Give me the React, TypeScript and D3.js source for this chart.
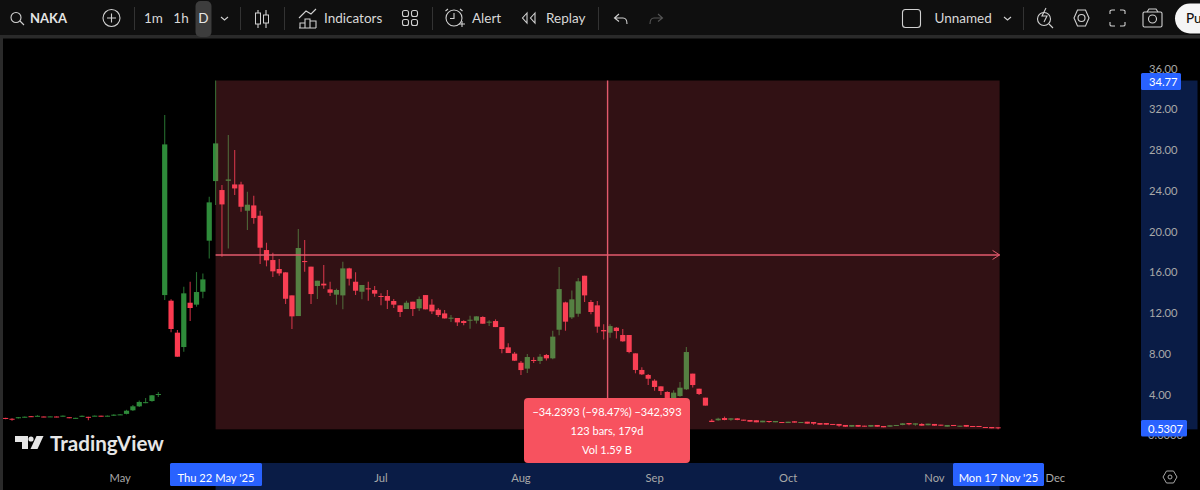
import React from "react";
import * as d3 from "d3";

const priceTicks = [36, 32, 28, 24, 20, 16, 12, 8, 4];
const monthLabels = ["May", "Jun", "Jul", "Aug", "Sep", "Oct", "Nov", "Dec"];
const monthIndex = [18, 39, 59, 81, 102, 123, 146, 165];

const opens = [1.65,1.57,1.62,1.73,1.82,1.82,1.79,1.76,1.79,1.82,1.72,1.62,1.78,1.76,1.85,1.87,1.82,1.95,1.97,2.05,2.40,2.79,3.15,3.31,3.95,
13.71,13.16,10.02,8.61,12.96,12.77,14.04,19.05,24.90,24.02,24.93,24.57,24.57,21.99,22.51,21.50,18.13,17.15,16.27,15.94,13.68,11.65,17.05,16.50,14.60,14.83,14.27,13.75,13.68,16.33,15.02,14.04,
14.37,14.20,13.62,13.62,13.13,12.70,12.34,13.06,12.41,13.71,12.77,12.27,11.91,11.39,11.46,11.16,11.23,11.20,11.56,11.03,11.16,10.57,8.58,7.96,7.07,6.49,7.34,7.24,7.83,7.50,10.31,12.99,11.52,11.88,15.61,13.03,12.70,
10.28,10.02,10.51,9.79,9.79,7.99,6.36,5.87,5.31,4.75,4.20,3.30,3.80,4.46,6.00,4.52,3.64,
1.38,1.42,1.64,1.48,1.61,1.48,1.45,1.42,1.22,1.35,1.22,1.25,1.15,1.32,1.15,1.28,1.25,1.15,1.15,1.06,1.06,0.96,0.79,0.96,0.89,0.79,0.96,0.86,0.79,0.86,0.96,1.15,0.99,1.06,0.93,1.06,0.99,0.79,0.96,0.79,0.96,0.86,0.86,0.76,0.76,0.73];
const closes = [1.58,1.54,1.72,1.77,1.77,1.86,1.75,1.80,1.74,1.87,1.66,1.66,1.86,1.73,1.87,1.84,1.87,1.97,2.00,2.36,2.79,3.22,3.20,3.87,4.00,
28.50,10.38,7.66,13.88,12.44,14.01,15.25,22.81,28.60,22.61,25.06,24.18,22.38,22.58,21.27,18.36,17.12,16.04,15.84,13.35,11.62,18.33,16.95,13.81,15.12,14.66,13.94,14.21,16.33,15.32,14.14,14.70,
14.27,13.85,13.55,13.16,12.77,12.05,12.96,12.34,13.32,12.31,12.11,11.75,11.42,11.49,11.03,10.97,11.29,11.62,10.90,11.10,10.57,8.42,8.02,7.27,6.35,7.63,7.24,7.66,7.50,9.63,14.30,11.10,13.29,15.06,13.68,12.05,10.61,
10.15,10.67,10.18,9.17,8.12,6.36,5.93,5.50,4.69,4.29,3.58,4.13,4.62,8.12,4.88,4.00,2.86,
1.25,1.58,1.45,1.61,1.45,1.38,1.28,1.22,1.38,1.25,1.35,1.19,1.28,1.19,1.25,1.09,1.09,0.99,0.99,0.99,0.89,0.79,0.96,0.79,0.79,0.96,0.79,0.73,0.93,0.96,1.12,1.02,1.12,0.89,1.09,0.89,0.89,0.96,0.86,0.89,0.79,0.76,0.76,0.70,0.63,0.63];
const highs = [1.68,1.62,1.74,1.80,1.84,1.92,1.80,1.80,1.80,1.90,1.72,1.68,1.90,1.76,1.89,1.87,1.89,2.02,2.02,2.45,2.92,3.35,3.60,3.90,4.20,
31.38,13.29,10.28,14.53,15.02,15.97,15.84,23.36,34.77,24.51,29.42,27.94,24.84,23.85,23.46,21.99,18.85,17.87,17.25,15.94,13.68,20.19,19.11,16.50,15.12,16.66,15.02,14.34,16.99,16.40,15.94,14.70,
15.02,14.60,13.88,14.20,13.32,12.70,13.16,13.06,13.58,13.71,13.29,12.44,12.24,11.75,11.46,11.23,11.69,11.62,11.62,11.23,11.33,10.57,8.97,8.12,7.24,7.92,7.60,7.92,7.92,10.21,16.46,13.06,14.17,15.38,15.61,13.22,13.13,
10.84,10.84,10.58,10.38,9.79,7.99,6.62,5.96,5.44,4.75,4.26,4.36,5.18,8.61,6.00,4.52,3.64,
1.55,1.68,1.78,1.61,1.64,1.48,1.45,1.42,1.38,1.35,1.35,1.25,1.28,1.32,1.25,1.28,1.25,1.15,1.15,1.06,1.06,0.96,0.96,0.96,0.89,0.96,0.96,0.86,0.93,0.96,1.15,1.15,1.12,1.12,1.09,1.06,0.99,0.96,0.96,0.89,0.96,0.86,0.86,0.76,0.76,0.73];
const lows = [1.52,1.38,1.60,1.70,1.74,1.80,1.73,1.74,1.72,1.80,1.62,1.60,1.76,1.42,1.82,1.80,1.80,1.85,1.95,2.00,2.32,2.72,3.10,3.25,3.70,
13.22,10.05,7.66,8.15,11.16,12.57,13.39,17.31,22.55,17.48,18.29,23.53,21.89,20.09,20.71,16.76,16.53,15.48,15.61,12.83,10.38,11.65,16.00,12.83,13.32,14.34,13.62,12.77,12.31,14.66,13.71,13.29,
13.16,13.55,12.70,12.34,12.44,11.56,12.34,11.65,12.14,12.31,11.85,11.56,11.42,11.06,10.67,10.74,10.41,10.93,10.90,10.67,10.57,7.99,8.02,7.24,5.86,6.06,7.04,6.94,7.30,7.40,9.76,10.21,11.36,11.59,13.03,11.82,10.02,
9.36,9.53,9.46,9.14,7.99,6.03,5.87,4.88,4.33,3.90,3.20,3.10,3.74,4.39,4.65,3.90,2.86,
1.25,1.38,1.42,1.38,1.42,1.38,1.28,1.22,1.22,1.19,1.22,1.19,1.15,1.19,1.15,1.09,0.99,0.99,0.99,0.99,0.79,0.79,0.79,0.79,0.79,0.79,0.79,0.73,0.79,0.86,0.93,0.93,0.89,0.89,0.93,0.89,0.89,0.79,0.86,0.79,0.79,0.76,0.76,0.70,0.63,0.53];

const bars = opens.map((open, i) => ({ i, open, close: closes[i], high: highs[i], low: lows[i] }));

const measureStart = 33;
const measureEnd = 156;
const measureHigh = 34.77;
const measureLow = 0.5307;

const FONT = "Lato, 'Noto Sans', sans-serif";
const x = d3.scaleLinear().domain([25, 93]).range([164.7, 597.3]);
const y = d3.scaleLinear().domain([0, 36]).range([434.75, 68]);
const GREEN = "#2e8b3a", GREEN_W = "#256b2e", RED = "#fb3a50", RED_W = "#c42c40";
const ICON = "#d1d1d1";
const AXIS_SIZE = 11.2;

function Tx(p: any) {
  return <text fontFamily={FONT} dominantBaseline="central" {...p} />;
}

function Toolbar() {
  const s = { fill: "none", stroke: ICON, strokeWidth: 1.1 };
  return (
    <g>
      <rect x={0} y={0} width={1200} height={35} fill="#0f0f0f" />
      <rect x={0} y={35} width={1200} height={3.5} fill="#2a2a2a" />
      <rect x={0} y={38} width={3} height={452} fill="#2a2a2a" />
      <circle cx={16} cy={17.5} r={5} {...s} /><path d="M20 21 L24 25" {...s} />
      <Tx x={30} y={18} fontSize={13} fontWeight={700} fill="#e4e4e4">NAKA</Tx>
      <circle cx={111.5} cy={18} r={8.5} {...s} /><path d="M107 18H116M111.5 13.5V22.5" {...s} />
      {[134, 240, 284, 432, 598, 1023].map((sx) => <rect key={sx} x={sx} y={7} width={1} height={23} fill="#333" />)}
      <Tx x={153.5} y={18} fontSize={13.5} textAnchor="middle" fill="#d8d8d8">1m</Tx>
      <Tx x={181} y={18} fontSize={13.5} textAnchor="middle" fill="#d8d8d8">1h</Tx>
      <rect x={195.5} y={1} width={16} height={36} rx={5} fill="#3d3d3d" />
      <Tx x={203.5} y={18} fontSize={13.5} textAnchor="middle" fill="#e8e8e8">D</Tx>
      <path d="M221 17L224.5 20L228 17" {...s} />
      <path d="M258 10V28M266 10V28" {...s} />
      <rect x={255.5} y={13} width={5} height={11} fill="#0f0f0f" stroke={ICON} />
      <rect x={263.5} y={15} width={5} height={8} fill="#0f0f0f" stroke={ICON} />
      <path d="M299 18L306 11L311 14L316 9M300 28V23H305V28M305 28V19H310V28M310 28V21H316V28M299 28H316" {...s} />
      <Tx x={324} y={18} fontSize={13.5} fill="#d8d8d8">Indicators</Tx>
      <rect x={402.5} y={10.5} width={6} height={6} rx={2} {...s} /><rect x={411.5} y={10.5} width={6} height={6} rx={2} {...s} />
      <rect x={402.5} y={19.5} width={6} height={6} rx={2} {...s} /><rect x={411.5} y={19.5} width={6} height={6} rx={2} {...s} />
      <circle cx={454} cy={18} r={8} {...s} /><path d="M454 13V18.5H450M445.5 11L448 9M460 9L462.5 11M459 24H465M462 21V27" {...s} />
      <Tx x={472} y={18} fontSize={13.5} fill="#d8d8d8">Alert</Tx>
      <path d="M527 13L522.5 18L527 23ZM535 13L530.5 18L535 23Z" {...s} />
      <Tx x={546} y={18} fontSize={13.5} fill="#d8d8d8">Replay</Tx>
      <path d="M619 14L614.5 18L619 21.5M615 18H623Q627 18 627 24" {...s} />
      <path d="M658 14L662.5 18L658 21.5M662 18H654Q650 18 650 24" fill="none" stroke="#555" strokeWidth={1.1} />
      <rect x={902.5} y={9.5} width={18} height={18} rx={3} {...s} />
      <Tx x={934.5} y={18} fontSize={13.5} fill="#d8d8d8">Unnamed</Tx>
      <path d="M1004 17L1007.5 20L1011 17" {...s} />
      <circle cx={1044} cy={19} r={6.5} {...s} /><path d="M1049 24L1053 28M1046 8L1042 16H1047L1044 22" {...s} />
      <path d="M1074 18L1077.5 10H1085.5L1089 18L1085.5 26H1077.5Z" {...s} /><circle cx={1081.5} cy={18} r={3.5} {...s} />
      <path d="M1110 14V11Q1110 10 1112 10H1115M1120 10H1123Q1125 10 1125 11V14M1125 22V25Q1125 26 1123 26H1120M1115 26H1112Q1110 26 1110 25V22" {...s} />
      <rect x={1143} y={12} width={19} height={15} rx={1.5} {...s} /><path d="M1147 12L1149 9H1156L1158 12" {...s} /><circle cx={1152.5} cy={19} r={4} {...s} />
      <rect x={1175} y={3.5} width={50} height={30} rx={15} fill="#f5f5f5" />
      <Tx x={1186} y={18} fontSize={13.5} fontWeight={500} fill="#111">Pu</Tx>
    </g>
  );
}

export default function App() {
  const bw = 5.2;
  const x0 = x(measureStart), x1 = x(measureEnd) + 1.5;
  const yT = y(measureHigh), yB = y(measureLow);
  const midY = (yT + yB) / 2;
  const crossX = (x0 + x1) / 2;
  const lineColor = "#e35a6c";
  return (
    <svg width={1200} height={490} style={{ position: "absolute", left: 0, top: 0, background: "#000" }}>
      <rect x={0} y={38} width={1200} height={452} fill="#000" />
      {/* axis highlights */}
      <rect x={1141} y={yT} width={56.5} height={yB - yT} fill="#0a1c46" />
      <rect x={x0} y={463} width={x1 - x0} height={27} fill="#0a1c46" />
      {/* candles */}
      {bars.map((b) => {
        const up = b.close >= b.open;
        const cx = x(b.i);
        const top = y(Math.max(b.open, b.close));
        const h = Math.max(1, Math.abs(y(b.open) - y(b.close)));
        return (
          <g key={b.i}>
            <line x1={cx} x2={cx} y1={y(b.high)} y2={y(b.low)} stroke={up ? GREEN_W : RED_W} strokeWidth={1.1} />
            <rect x={cx - bw / 2} y={top} width={bw} height={h} fill={up ? GREEN : RED} />
          </g>
        );
      })}
      {/* measure box */}
      <rect x={x0} y={yT} width={x1 - x0} height={yB - yT} fill="rgba(247,85,100,0.2)" />
      <line x1={x0} x2={x1} y1={midY} y2={midY} stroke={lineColor} strokeWidth={1.4} />
      <path d={`M${x1 - 7} ${midY - 4.5}L${x1} ${midY}L${x1 - 7} ${midY + 4.5}`} fill="none" stroke={lineColor} />
      <line x1={crossX} x2={crossX} y1={yT} y2={398} stroke={lineColor} strokeWidth={1.4} />
      {/* tooltip */}
      <rect x={524} y={398} width={166} height={65} rx={4} fill="#f7525f" />
      <Tx x={607} y={411} fontSize={11} textAnchor="middle" fill="#fff">−34.2393 (−98.47%) −342,393</Tx>
      <Tx x={607} y={430} fontSize={11} textAnchor="middle" fill="#fff">123 bars, 179d</Tx>
      <Tx x={607} y={449} fontSize={11} textAnchor="middle" fill="#fff">Vol 1.59 B</Tx>
      {/* watermark */}
      <g fill="#e6e6e6">
        <path d="M15 436H28V449H22V442H15Z" />
        <circle cx={31} cy={439} r={2.6} />
        <path d="M36.5 436H43.5L37.5 449H30.5Z" />
      </g>
      <Tx x={50} y={443} fontSize={20.6} fontWeight={700} fill="#e6e6e6">TradingView</Tx>
      {/* price axis */}
      {priceTicks.map((p) => (
        <Tx key={p} x={1149} y={y(p)} fontSize={AXIS_SIZE} fill="#a8a8a8">{p.toFixed(2)}</Tx>
      ))}
      <Tx x={1148} y={y(0)} fontSize={AXIS_SIZE} fill="#a8a8a8">0.0000</Tx>
      <rect x={1141} y={73} width={40} height={17} rx={1.5} fill="#2962ff" />
      <Tx x={1149} y={81.5} fontSize={AXIS_SIZE} fill="#fff">{measureHigh.toFixed(2)}</Tx>
      <rect x={1141} y={420} width={46} height={16.5} rx={1.5} fill="#2962ff" />
      <Tx x={1148} y={428.5} fontSize={AXIS_SIZE} fill="#fff">{measureLow.toFixed(4)}</Tx>
      {/* time axis */}
      {monthLabels.map((m, i) => (
        <Tx key={m} x={x(monthIndex[i])} y={477} fontSize={AXIS_SIZE} textAnchor="middle" fill="#a8a8a8">{m}</Tx>
      ))}
      <rect x={170} y={463} width={92} height={23} rx={1.5} fill="#2962ff" />
      <Tx x={216} y={477} fontSize={AXIS_SIZE} textAnchor="middle" fill="#fff">Thu 22 May '25</Tx>
      <rect x={953} y={463} width={91} height={23} rx={1.5} fill="#2962ff" />
      <Tx x={998.5} y={477} fontSize={AXIS_SIZE} textAnchor="middle" fill="#fff">Mon 17 Nov '25</Tx>
      <path d="M1163 477L1166.5 471H1173.5L1177 477L1173.5 483H1166.5Z" fill="none" stroke="#a8a8a8" />
      <circle cx={1170} cy={477} r={2} fill="none" stroke="#a8a8a8" />
      <Toolbar />
    </svg>
  );
}
